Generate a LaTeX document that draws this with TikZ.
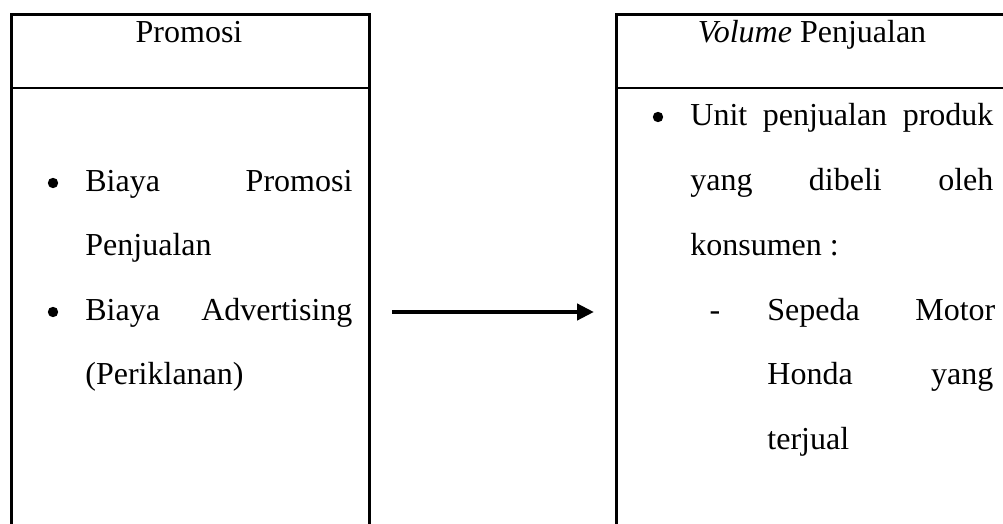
\documentclass[tikz,border=0pt]{standalone}
\usepackage{fontspec}
\setmainfont{Liberation Serif}
\usetikzlibrary{arrows.meta}
\tikzset{
  panel/.style={draw, line width=1.3pt, inner sep=0pt, rectangle},
  rule/.style={line width=1.3pt},
  txt/.style={font=\fontsize{16}{19}\selectfont, inner sep=0pt},
  wline/.style={txt, anchor=base west},
  ctext/.style={txt, anchor=base},
  bul/.style={circle, fill=black, inner sep=0pt, minimum size=5.2pt},
  conn/.style={line width=2.4pt, -{Triangle[length=8.5pt,width=8pt]}}
}
\begin{document}
\begin{tikzpicture}[x=0.5pt,y=-0.5pt]
\useasboundingbox (0,0) rectangle (1003,524);
\clip (0,0) rectangle (1003,524);
% boxes
\node[panel, anchor=north west, minimum width=179pt, minimum height=300pt] (left) at (10,13) {};
\node[panel, anchor=north west, minimum width=250pt, minimum height=300pt] (right) at (615,13) {};
\draw[rule] (left.west |- 0,88) -- (left.east |- 0,88);
\draw[rule] (right.west |- 0,88) -- (right.east |- 0,88);
% headers
\node[ctext] (lh) at (189,43) {Promosi};
\node[ctext] (rh) at (812,43) {\textit{Volume} Penjualan};
% left body
\node[bul] (lb1) at (53,183) {};
\node[wline] (l1) at (85,192) {\makebox[133.5pt][s]{Biaya Promosi}};
\node[wline] (l2) at (85,256) {Penjualan};
\node[bul] (lb2) at (53,312) {};
\node[wline] (l3) at (85,321) {\makebox[133.5pt][s]{Biaya Advertising}};
\node[wline] (l4) at (85,385) {(Periklanan)};
% right body
\node[bul] (rb1) at (658,117) {};
\node[wline] (r1) at (690,126) {\makebox[151.5pt][s]{Unit penjualan produk}};
\node[wline] (r2) at (690,191) {\makebox[151.5pt][s]{yang dibeli oleh}};
\node[wline] (r3) at (690,256) {konsumen :};
\node[ctext] (rd) at (715,321) {-};
\node[wline] (r4) at (767,321) {\makebox[114pt][s]{Sepeda Motor}};
\node[wline] (r5) at (767,385) {\makebox[113pt][s]{Honda yang}};
\node[wline] (r6) at (767,450) {terjual};
% connector
\coordinate (a) at (392,312);
\coordinate (b) at (594,312);
\draw[conn] (a) -- (b);
\end{tikzpicture}
\end{document}
